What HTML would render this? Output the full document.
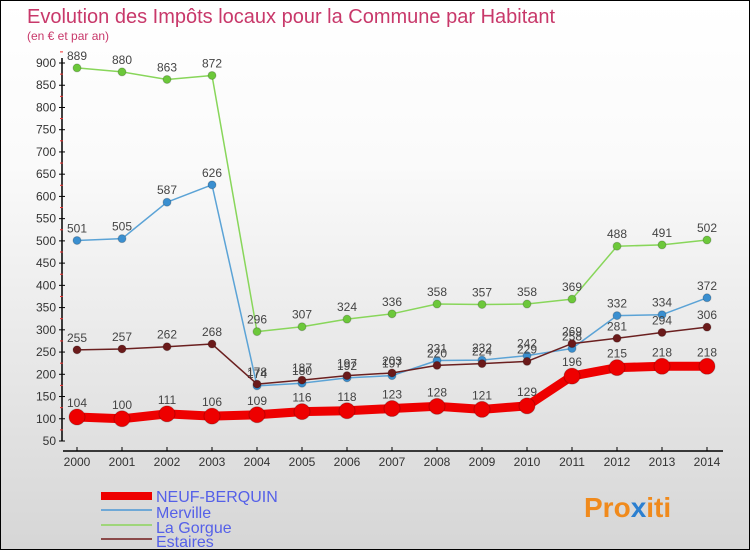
<!DOCTYPE html>
<html><head><meta charset="utf-8"><style>
body{margin:0}
#c{width:750px;height:550px;position:relative;overflow:hidden;background:linear-gradient(#fff,#fafafa 30%,#d6d6d6);box-sizing:border-box;border:1px solid #000;font-family:"Liberation Sans",sans-serif}
svg{position:absolute;left:0;top:0}
</style></head><body>
<div id="c">
<svg id="s" width="750" height="550">
<text x="26" y="22" font-size="20" fill="#c8386a">Evolution des Impôts locaux pour la Commune par Habitant</text>
<text x="26" y="39" font-size="12" fill="#c8386a">(en € et par an)</text>
<text x="583" y="516" font-size="28" font-weight="bold" fill="#f08a1c">Pro<tspan fill="#2b7fd0">x</tspan>iti</text>
</svg>
</div>
<script>
const years=[2000,2001,2002,2003,2004,2005,2006,2007,2008,2009,2010,2011,2012,2013,2014];
const neuf=[104,100,111,106,109,116,118,123,128,121,129,196,215,218,218];
const merville=[501,505,587,626,174,180,192,197,231,232,242,258,332,334,372];
const gorgue=[889,880,863,872,296,307,324,336,358,357,358,369,488,491,502];
const estaires=[255,257,262,268,178,187,197,203,220,224,229,269,281,294,306];
const yTicks=[50,100,150,200,250,300,350,400,450,500,550,600,650,700,750,800,850,900];
const names=["NEUF-BERQUIN","Merville","La Gorgue","Estaires"];
const svg=document.getElementById('s');const NS='http://www.w3.org/2000/svg';
const X=i=>76+i*45, Y=v=>440-(v-50)*0.4447;
function el(t,a,p){const e=document.createElementNS(NS,t);for(const k in a)e.setAttribute(k,a[k]);(p||svg).appendChild(e);return e;}
let ax=el('line',{x1:61,y1:57,x2:61,y2:440,stroke:'#000','stroke-width':1.5});


let bx=el('line',{x1:62,y1:450,x2:722,y2:450,stroke:'#000','stroke-width':1.5});


yTicks.forEach(v=>{el('line',{x1:58,x2:64,y1:Y(v),y2:Y(v),stroke:'#000'});
 el('line',{x1:59,x2:62,y1:Y(v+25),y2:Y(v+25),stroke:'#e33'});
 const t=el('text',{x:55,y:Y(v)+4,'font-size':12,fill:'#333','text-anchor':'end'});t.textContent=v;
 
 });
years.forEach((y,i)=>{el('line',{x1:X(i),x2:X(i),y1:446,y2:450,stroke:'#000'});
 const t=el('text',{x:X(i),y:465,'font-size':12,fill:'#333','text-anchor':'middle'});t.textContent=y;
 
 });
const series=[[gorgue,'#88d65a','#6cc83a',1.5,4,'la-gorgue'],[merville,'#5ba3d6','#3a8fd0',1.5,4,'merville'],[estaires,'#6b2020','#6b1a1a',1.5,4,'estaires'],[neuf,'#ee0000','#ee0000',9,8,'neuf-berquin']];
series.forEach(([d,c,dc,w,r,n])=>{
 const g=el('g',{});
 
 
 el('polyline',{points:d.map((v,i)=>X(i)+','+Y(v)).join(' '),fill:'none',stroke:c,'stroke-width':w,'stroke-linejoin':'round'},g);
 d.forEach((v,i)=>{const p=el('circle',{cx:X(i),cy:Y(v),r:r,fill:dc,stroke:'rgba(0,0,0,0.2)'},g);
  
  
  const t=el('text',{x:X(i),y:Y(v)-(n=='neuf-berquin'?10:8),'font-size':12,fill:'#444','text-anchor':'middle'},g);t.textContent=v;
  
  });
});
const lc=[['#ee0000',8],['#6fa8d6',2],['#9fd57a',2],['#8b4a4a',2]];
const ly=[488,504,519,533];
names.forEach((n,i)=>{const y=ly[i];
 const l=el('line',{x1:100,x2:151,y1:y+(i?5:7),y2:y+(i?5:7),stroke:lc[i][0],'stroke-width':lc[i][1]});
 
 
 const t=el('text',{x:155,y:y+13,'font-size':16,fill:'#5560e8'});t.textContent=n;
 
 });
</script>
</body></html>
